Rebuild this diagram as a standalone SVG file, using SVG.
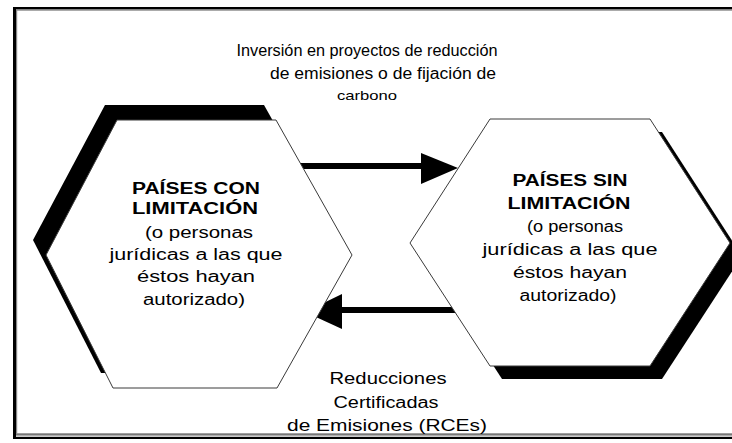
<svg xmlns="http://www.w3.org/2000/svg" width="732" height="443" viewBox="0 0 732 443">
<style>
  text { font-family: "Liberation Sans", Arial, sans-serif; fill: #000; }
  .lbl { font-size: 16px; }
  .small { font-size: 13px; }
  .bold { font-size: 16px; font-weight: bold; }
  .body { font-size: 16px; }
  .hex { fill: #fff; stroke: #3a3a3a; stroke-width: 1; }
  .shadow { fill: #000; }
</style>
<rect width="732" height="443" fill="#fff"/>
<g id="frame">
  <rect x="13" y="7" width="719" height="2.5" fill="#000"/>
  <rect x="16" y="9.5" width="716" height="1.2" fill="#888"/>
  <rect x="13" y="7" width="3" height="432" fill="#000"/>
  <rect x="16" y="9.5" width="1.2" height="424" fill="#888"/>
  <rect x="16" y="433.3" width="716" height="2.3" fill="#777"/>
  <rect x="13" y="436.8" width="719" height="2.2" fill="#000"/>
</g>
<g id="connectors">
  <rect x="295" y="163" width="130" height="6" fill="#000"/>
  <polygon points="421,153 458,168 421,184" fill="#000"/>
  <rect x="338" y="307" width="122" height="6" fill="#000"/>
  <polygon points="342,294 305,312 342,329" fill="#000"/>
</g>
<g id="label-top">
  <text class="lbl" x="367" y="56" text-anchor="middle" textLength="261" lengthAdjust="spacingAndGlyphs">Inversión en proyectos de reducción</text>
  <text class="lbl" x="383" y="79" text-anchor="middle" textLength="226" lengthAdjust="spacingAndGlyphs">de emisiones o de fijación de</text>
  <text class="small" x="367" y="100" text-anchor="middle" textLength="60" lengthAdjust="spacingAndGlyphs">carbono</text>
</g>
<g id="label-bottom">
  <text class="lbl" x="388" y="384" text-anchor="middle" textLength="117" lengthAdjust="spacingAndGlyphs">Reducciones</text>
  <text class="lbl" x="386" y="408" text-anchor="middle" textLength="105" lengthAdjust="spacingAndGlyphs">Certificadas</text>
  <text class="lbl" x="387" y="431" text-anchor="middle" textLength="200" lengthAdjust="spacingAndGlyphs">de Emisiones (RCEs)</text>
</g>
<g id="node-con">
  <polygon class="shadow" points="105,105 264,105 340,240 265,373 101,373 33,240"/>
  <polygon class="hex" points="117,120 276,120 352,255 277,388 113,388 46,255"/>
  <text class="bold" x="196" y="194" text-anchor="middle" textLength="128" lengthAdjust="spacingAndGlyphs">PAÍSES CON</text>
  <text class="bold" x="195" y="214" text-anchor="middle" textLength="126" lengthAdjust="spacingAndGlyphs">LIMITACIÓN</text>
  <text class="body" x="199" y="238" text-anchor="middle" textLength="108" lengthAdjust="spacingAndGlyphs">(o personas</text>
  <text class="body" x="196" y="260" text-anchor="middle" textLength="173" lengthAdjust="spacingAndGlyphs">jurídicas a las que</text>
  <text class="body" x="196" y="282" text-anchor="middle" textLength="118" lengthAdjust="spacingAndGlyphs">éstos hayan</text>
  <text class="body" x="194" y="305" text-anchor="middle" textLength="102" lengthAdjust="spacingAndGlyphs">autorizado)</text>
</g>
<g id="node-sin">
  <polygon class="shadow" points="502,132 662,132 742,256 662,379 502,379 422,256"/>
  <polygon class="hex" points="490,119 650,119 730,243 650,366 490,366 410,243"/>
  <text class="bold" x="570" y="186" text-anchor="middle" textLength="115" lengthAdjust="spacingAndGlyphs">PAÍSES SIN</text>
  <text class="bold" x="569" y="209" text-anchor="middle" textLength="123" lengthAdjust="spacingAndGlyphs">LIMITACIÓN</text>
  <text class="body" x="575" y="232" text-anchor="middle" textLength="96" lengthAdjust="spacingAndGlyphs">(o personas</text>
  <text class="body" x="570" y="255" text-anchor="middle" textLength="175" lengthAdjust="spacingAndGlyphs">jurídicas a las que</text>
  <text class="body" x="570" y="278" text-anchor="middle" textLength="114" lengthAdjust="spacingAndGlyphs">éstos hayan</text>
  <text class="body" x="568" y="301" text-anchor="middle" textLength="97" lengthAdjust="spacingAndGlyphs">autorizado)</text>
</g>
</svg>
